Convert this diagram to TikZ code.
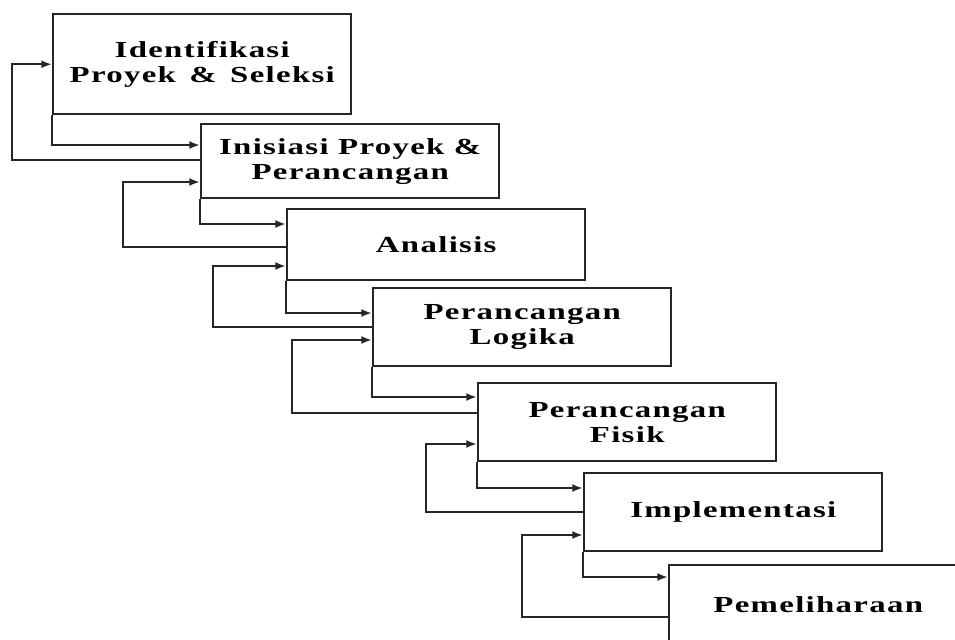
\documentclass[tikz,border=0pt]{standalone}
\usepackage{fontspec}
\setmainfont{Liberation Serif}
\newfontfamily\stagefont[LetterSpace=4]{Liberation Serif}
\usetikzlibrary{arrows.meta, calc}
\newcommand{\wide}[1]{\scalebox{1.43}[1]{#1}}

\begin{document}
\begin{tikzpicture}[x=0.03cm,y=-0.03cm,line width=2.1pt,color=black!85,>={Latex[length=3.2mm,width=2.4mm]}]
		\tikzstyle{stage}=[draw,rectangle,fill=white,anchor=north west,minimum width=8.94cm,minimum height=2.34cm,inner sep=0pt,align=center,text=black,font=\stagefont\bfseries\fontsize{19.6}{21.3}\selectfont]

		\clip (0,0) rectangle (955,639);

		\node[stage,minimum height=3cm] (s_1) at (52,13) {\wide{Identifikasi}\\\wide{Proyek\hspace{0.12em} \&\hspace{0.12em} Seleksi}};
		\node[stage,minimum height=2.22cm] (s_2) at (200,123) {\wide{Inisiasi Proyek \&}\\\wide{Perancangan}};
		\node[stage,minimum height=2.13cm] (s_3) at (286,208) {\wide{Analisis}};
		\node[stage] (s_4) at (372,287) {\wide{Perancangan}\\\wide{Logika}};
		\node[stage] (s_5) at (477,382) {\wide{Perancangan}\\\wide{Fisik}};
		\node[stage] (s_6) at (583,472) {\wide{Implementasi}};
		\node[stage] (s_7) at (668,564) {\wide{Pemeliharaan}};

		% next stage
		\draw[->] (s_1.south west) |- ($(s_2.north west)+(0,22)$);
		\draw[->] (s_2.south west) |- ($(s_3.north west)+(0,16)$);
		\draw[->] (s_3.south west) |- ($(s_4.north west)+(0,26)$);
		\draw[->] (s_4.south west) |- ($(s_5.north west)+(0,15)$);
		\draw[->] (s_5.south west) |- ($(s_6.north west)+(0,16)$);
		\draw[->] (s_6.south west) |- ($(s_7.north west)+(0,13)$);

		% back to previous stage
		\draw[->] ($(s_2.north west)+(0,37)$) -- ++(-188,0) |- (s_1.west);
		\draw[->] ($(s_3.north west)+(0,39)$) -- ++(-163,0) |- ($(s_2.north west)+(0,59)$);
		\draw[->] ($(s_4.north west)+(0,40)$) -- ++(-159,0) |- ($(s_3.north west)+(0,58)$);
		\draw[->] ($(s_5.north west)+(0,31)$) -- ++(-185,0) |- ($(s_4.north west)+(0,53)$);
		\draw[->] ($(s_6.north west)+(0,40)$) -- ++(-157,0) |- ($(s_5.north west)+(0,62)$);
		\draw[->] ($(s_7.north west)+(0,53)$) -- ++(-146,0) |- ($(s_6.north west)+(0,63)$);
	\end{tikzpicture}
\end{document}
